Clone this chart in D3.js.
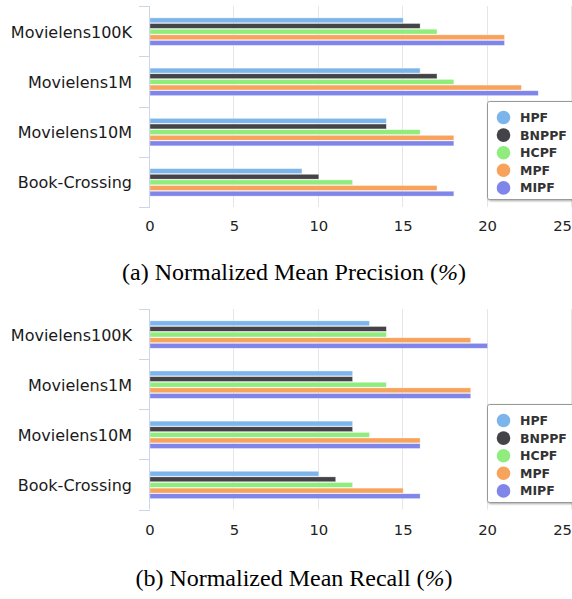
<!DOCTYPE html>
<html>
<head>
<meta charset="utf-8">
<script src="https://cdn.jsdelivr.net/npm/d3@7"></script>
<style>
    body { margin: 0; background: #fff; }
    svg { display: block; }
</style>
</head>
<body>
<div id="chart"></div>
<script>
// data
const categories = ["Movielens100K", "Movielens1M", "Movielens10M", "Book-Crossing"];
const seriesNames = ["HPF", "BNPPF", "HCPF", "MPF", "MIPF"];
const seriesColors = ["#7cb5ec", "#434348", "#90ed7d", "#f7a35c", "#8085e9"];
const xTicks = [0, 5, 10, 15, 20, 25];

// rows follow seriesNames, columns follow categories
const precision = [
    [15, 16, 14, 9],
    [16, 17, 14, 10],
    [17, 18, 16, 12],
    [21, 22, 18, 17],
    [21, 23, 18, 18]
];
const recall = [
    [13, 12, 12, 10],
    [14, 12, 12, 11],
    [14, 14, 13, 12],
    [19, 19, 16, 15],
    [20, 19, 16, 16]
];

const W = 572, H = 599;

const svg = d3.select("#chart").append("svg")
    .attr("width", W)
    .attr("height", H)
    .attr("viewBox", `0 0 ${W} ${H}`);

const defs = svg.append("defs");
const shadow = defs.append("filter").attr("id", "shadow")
    .attr("x", "-20%").attr("y", "-20%").attr("width", "150%").attr("height", "150%");
shadow.append("feDropShadow")
    .attr("dx", 1).attr("dy", 1).attr("stdDeviation", 1.2)
    .attr("flood-color", "#000").attr("flood-opacity", 0.35);

function drawChart(values, opts) {
    const g = svg.append("g");
    const x = d3.scaleLinear().domain([0, 25]).range([150, 572]);
    const y0 = d3.scaleBand().domain(categories).range([opts.top, opts.bottom]);
    const bw = y0.bandwidth();
    const y1 = d3.scaleBand().domain(seriesNames)
        .range([11.5, bw - 10.5]).paddingInner(0.14).paddingOuter(0.07);

    // grid
    g.append("g").selectAll("line")
        .data(xTicks.slice(1))
        .enter().append("line")
        .attr("x1", d => Math.round(x(d)) - 0.5)
        .attr("x2", d => Math.round(x(d)) - 0.5)
        .attr("y1", opts.top)
        .attr("y2", opts.bottom)
        .attr("stroke", "#e6e6e6")
        .attr("stroke-width", 1);

    // x labels
    g.append("g")
        .attr("font-family", "DejaVu Sans, sans-serif")
        .attr("font-size", 14.8)
        .attr("fill", "#222")
        .selectAll("text")
        .data(xTicks)
        .enter().append("text")
        .attr("x", d => d === 25 ? 572 : x(d))
        .attr("y", opts.tickY)
        .attr("text-anchor", d => d === 25 ? "end" : "middle")
        .attr("dy", "0.35em")
        .text(d => d);

    // bars
    const groups = g.append("g").selectAll("g")
        .data(seriesNames)
        .enter().append("g")
        .attr("fill", (d, i) => seriesColors[i]);

    groups.selectAll("rect")
        .data((s, i) => values[i].map((v, j) => ({ s: s, cat: categories[j], v: v })))
        .enter().append("rect")
        .attr("x", x(0))
        .attr("y", d => y0(d.cat) + y1(d.s))
        .attr("width", d => x(d.v) - x(0))
        .attr("height", y1.bandwidth())
        .attr("stroke", "#fff")
        .attr("stroke-opacity", 0.5)
        .attr("stroke-width", 0.6);

    // category axis
    const ax = g.append("g").attr("stroke", "#ccd6eb").attr("stroke-width", 1);
    ax.append("line")
        .attr("x1", 149.5).attr("x2", 149.5)
        .attr("y1", opts.top).attr("y2", opts.bottom);
    ax.selectAll("line.tick")
        .data(categories.map(c => y0(c)).concat([opts.bottom]))
        .enter().append("line")
        .attr("class", "tick")
        .attr("x1", 139).attr("x2", 150)
        .attr("y1", d => Math.round(d) + 0.5)
        .attr("y2", d => Math.round(d) + 0.5);

    g.append("g")
        .attr("font-family", "DejaVu Sans, sans-serif")
        .attr("font-size", 16)
        .attr("fill", "#1a1a1a")
        .attr("text-anchor", "end")
        .selectAll("text")
        .data(categories)
        .enter().append("text")
        .attr("x", 132)
        .attr("y", d => y0(d) + bw / 2 + 1)
        .attr("dy", "0.35em")
        .text(d => d);

    // legend
    const lg = g.append("g");
    lg.append("rect")
        .attr("x", 487.5).attr("y", opts.top + 95.5)
        .attr("width", 95).attr("height", 98)
        .attr("rx", 2)
        .attr("fill", "#fff")
        .attr("stroke", "#999")
        .attr("stroke-width", 1)
        .attr("filter", "url(#shadow)");
    const items = lg.selectAll("g.item")
        .data(seriesNames)
        .enter().append("g")
        .attr("class", "item")
        .attr("transform", (d, i) => `translate(0,${opts.top + 111.5 + i * 17.6})`);
    items.append("circle")
        .attr("cx", 503.5).attr("cy", 0).attr("r", 6.8)
        .attr("fill", (d, i) => seriesColors[i]);
    items.append("text")
        .attr("x", 520).attr("y", 0).attr("dy", "0.36em")
        .attr("font-family", "DejaVu Sans, sans-serif")
        .attr("font-weight", "bold")
        .attr("font-size", 12.5)
        .attr("fill", "#333")
        .text(d => d);

    // caption
    const cap = g.append("text")
        .attr("x", 294).attr("y", opts.captionY)
        .attr("text-anchor", "middle")
        .attr("dy", "0.32em")
        .attr("font-family", "Liberation Serif, Times New Roman, serif")
        .attr("font-size", 24)
        .attr("fill", "#000");
    cap.append("tspan").text(opts.caption + " (");
    cap.append("tspan").attr("font-style", "italic").text("%");
    cap.append("tspan").text(")");
}

drawChart(precision, { top: 6, bottom: 207, tickY: 226, captionY: 272,
    caption: "(a) Normalized Mean Precision" });
drawChart(recall, { top: 309, bottom: 509.5, tickY: 530, captionY: 578,
    caption: "(b) Normalized Mean Recall" });
</script>
</body>
</html>
